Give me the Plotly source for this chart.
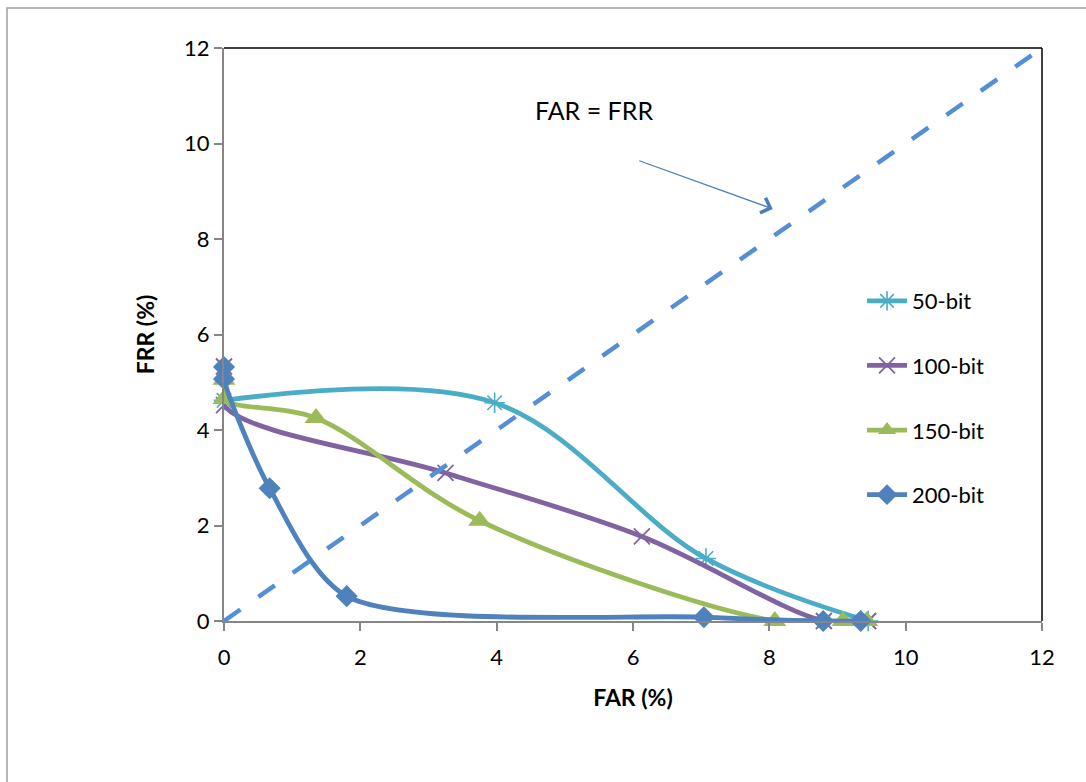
import plotly.graph_objects as go

# FAR / FRR (%) operating points for each key length
far_50 = [0, 3.97, 7.07, 9.45]
frr_50 = [4.62, 4.57, 1.31, 0]

far_100 = [0, 0, 3.25, 6.13, 8.8, 9.45]
frr_100 = [5.33, 4.52, 3.1, 1.77, 0, 0]

far_150 = [0, 0, 1.35, 3.75, 8.08, 9.08, 9.43]
frr_150 = [5.05, 4.65, 4.25, 2.1, 0, 0, 0]

far_200 = [0, 0, 0.67, 1.8, 7.04, 8.79, 9.34]
frr_200 = [5.32, 5.07, 2.78, 0.52, 0.08, 0, 0]

eer_line = [0, 12]

names = ["50-bit", "100-bit", "150-bit", "200-bit"]
colors = ["#4BACC6", "#8064A2", "#9BBB59", "#4F81BD"]

FONT = "Lato, 'Open Sans', sans-serif"

fig = go.Figure()

series = [
    (far_50, frr_50, "asterisk-open", 17, 1.6, 1.0),
    (far_100, frr_100, "x-thin-open", 16, 1.8, 1.0),
    (far_150, frr_150, "triangle-up", 20, 0, 1.0),
    (far_200, frr_200, "diamond", 17, 0, 0.8),
]

for i, (xs, ys, sym, size, mlw, smooth) in enumerate(series):
    fig.add_trace(go.Scatter(
        x=xs, y=ys, name=names[i], mode="lines+markers",
        line=dict(color=colors[i], width=4.8, shape="spline", smoothing=smooth),
        marker=dict(symbol=sym, size=size, color=colors[i],
                    line=dict(color=colors[i], width=mlw)),
        legendgroup=names[i],
        cliponaxis=False,
    ))

# FAR = FRR reference line
fig.add_trace(go.Scatter(
    x=eer_line, y=eer_line, mode="lines", showlegend=False,
    line=dict(color="#558ED5", width=4.5, dash="20px,22px"),
    hoverinfo="skip",
))

fig.add_annotation(
    x=8.05, y=8.63, ax=6.07, ay=9.65, xref="x", yref="y", axref="x", ayref="y",
    showarrow=True, arrowhead=4, arrowsize=2.4, arrowwidth=1.3,
    arrowcolor="#4A7EBB", text="",
)
fig.add_annotation(
    x=5.43, y=10.7, xref="x", yref="y", text="FAR = FRR", showarrow=False,
    xanchor="center", yanchor="middle",
    font=dict(family=FONT, size=25, color="#000000"),
)

shapes = [
    # top and right edges of the plot area
    dict(type="line", xref="paper", yref="paper", x0=0, x1=1, y0=1, y1=1,
         line=dict(color="#000000", width=1.5)),
    dict(type="line", xref="paper", yref="paper", x0=1, x1=1, y0=0, y1=1,
         line=dict(color="#000000", width=1.5)),
    # outer chart frame
    dict(type="rect", xref="paper", yref="paper",
         x0=(7 - 224) / 818, x1=(1100 - 224) / 818,
         y0=(621 - 800) / 573, y1=(621 - 8) / 573,
         line=dict(color="#A0A0A0", width=1.5), fillcolor="rgba(0,0,0,0)",
         layer="below"),
]

fig.update_layout(
    width=1086, height=782,
    margin=dict(l=224, r=44, t=48, b=161),
    paper_bgcolor="white", plot_bgcolor="white",
    font=dict(family=FONT, size=22, color="#000000"),
    shapes=shapes,
    showlegend=True,
    legend=dict(
        x=0.78, y=0.595, xanchor="left", yanchor="top",
        bgcolor="rgba(0,0,0,0)", font=dict(family=FONT, size=22),
        tracegroupgap=33, traceorder="grouped", itemwidth=40,
    ),
    xaxis=dict(
        range=[0, 12], dtick=2, showgrid=False, zeroline=False,
        showline=True, linecolor="#868686", linewidth=2,
        ticks="outside", ticklen=8, tickcolor="#868686", tickwidth=1.5,
        ticklabelstandoff=8,
        title=dict(text="<b>FAR (%)</b>", font=dict(family=FONT, size=23),
                   standoff=20),
    ),
    yaxis=dict(
        range=[0, 12], dtick=2, showgrid=False, zeroline=False,
        showline=True, linecolor="#868686", linewidth=2,
        ticks="outside", ticklen=8, tickcolor="#868686", tickwidth=1.5,
        title=dict(text="<b>FRR (%)</b>", font=dict(family=FONT, size=23),
                   standoff=23),
    ),
)

fig.write_html("out.html")
